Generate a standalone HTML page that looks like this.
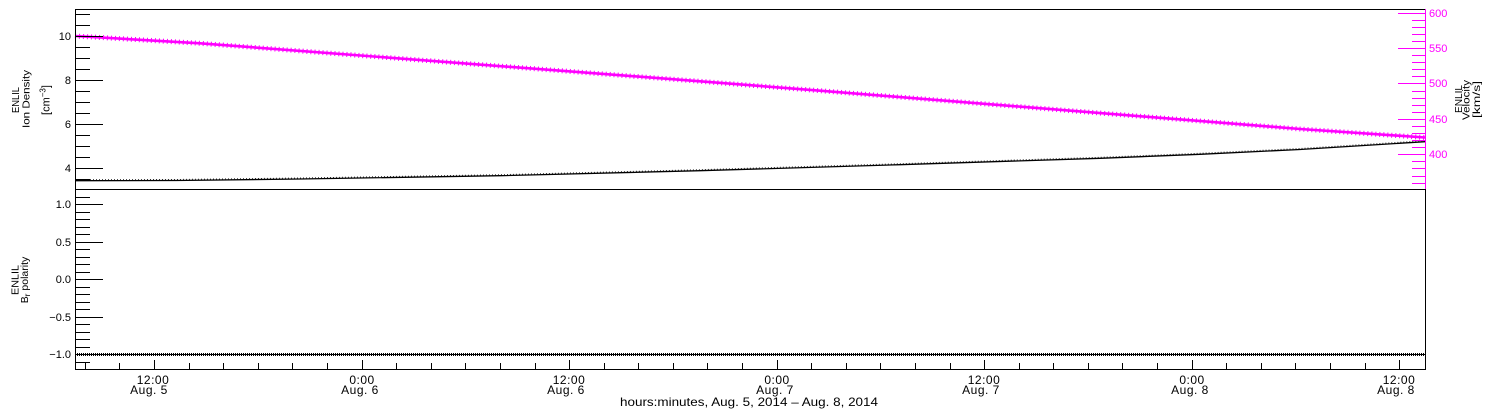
<!DOCTYPE html>
<html><head><meta charset="utf-8"><style>
html,body{margin:0;padding:0;background:#fff;}
svg{display:block;font-family:"Liberation Sans",sans-serif;}
</style></head><body>
<svg width="1500" height="410" viewBox="0 0 1500 410" xmlns="http://www.w3.org/2000/svg">
<rect width="1500" height="410" fill="#fff"/>

<!-- data: top panel -->
<g fill="none">
  <polyline points="75,36 200,43.3 700,81.3 820,90.7 1300,129 1425,137.5" stroke="#ff00ff" stroke-width="2.6"/>
  <polyline points="75,36 200,43.3 700,81.3 820,90.7 1300,129 1425,137.5" stroke="#ff00ff" stroke-width="5" stroke-dasharray="1 3"/>
  <polyline points="75,180.7 176,180.5 300,179 500,175.7 700,170.7 900,164.7 1100,158.3 1200,154.3 1300,149.5 1425,141.7" stroke="#000" stroke-width="1.3"/>
  <polyline points="75,179.7 176,179.5 300,178 500,174.7 700,169.7 900,163.7 1100,157.3 1200,153.3 1300,148.5 1425,140.7" stroke="#000" stroke-width="1" stroke-dasharray="1 2" opacity="0.8"/>
  <!-- bottom panel data -->
  <line x1="75" y1="354.5" x2="1425" y2="354.5" stroke="#000" stroke-width="1"/>
  <line x1="75" y1="354.5" x2="1425" y2="354.5" stroke="#000" stroke-width="3" stroke-dasharray="1 1"/>
</g>

<g shape-rendering="crispEdges" stroke-width="1" fill="none">
  <!-- frames -->
  <line x1="75" y1="9.5" x2="1426" y2="9.5" stroke="#000"/>
  <line x1="75.5" y1="9" x2="75.5" y2="370" stroke="#000"/>
  <line x1="75" y1="189.5" x2="1426" y2="189.5" stroke="#000"/>
  <line x1="75" y1="369.5" x2="1426" y2="369.5" stroke="#000"/>
  <line x1="1425.5" y1="189" x2="1425.5" y2="370" stroke="#000"/>
  <line x1="1425.5" y1="9" x2="1425.5" y2="189" stroke="#ff00ff"/>

  <!-- top-left ticks -->
  <path stroke="#000" d="
  M75,14.5h15 M75,25.5h15 M75,36.5h28 M75,47.5h15 M75,58.5h15 M75,69.5h15
  M75,80.5h28 M75,91.5h15 M75,102.5h15 M75,113.5h15 M75,124.5h28 M75,135.5h15
  M75,146.5h15 M75,157.5h15 M75,168.5h28 M75,179.5h15"/>

  <!-- bottom-left ticks -->
  <path stroke="#000" d="
  M75,197.5h15 M75,204.5h28 M75,212.5h15 M75,219.5h15 M75,227.5h15 M75,234.5h15
  M75,242.5h28 M75,249.5h15 M75,257.5h15 M75,264.5h15 M75,272.5h15 M75,279.5h28
  M75,287.5h15 M75,294.5h15 M75,302.5h15 M75,309.5h15 M75,317.5h28 M75,324.5h15
  M75,332.5h15 M75,339.5h15 M75,347.5h15 M75,354.5h28 M75,362.5h15"/>

  <!-- right magenta ticks -->
  <path stroke="#ff00ff" d="
  M1425,13.5h-27 M1425,20.5h-13 M1425,27.5h-13 M1425,34.5h-13 M1425,41.5h-13
  M1425,48.5h-27 M1425,55.5h-13 M1425,62.5h-13 M1425,69.5h-13 M1425,76.5h-13
  M1425,83.5h-27 M1425,91.5h-13 M1425,98.5h-13 M1425,105.5h-13 M1425,112.5h-13
  M1425,119.5h-27 M1425,126.5h-13 M1425,133.5h-13 M1425,140.5h-13 M1425,147.5h-13
  M1425,154.5h-27 M1425,161.5h-13 M1425,168.5h-13 M1425,176.5h-13 M1425,183.5h-13"/>

  <!-- x ticks -->
  <path stroke="#000" d="
  M85.5,369v-6 M119.5,369v-6 M154.5,369v-9 M189.5,369v-6 M223.5,369v-6 M258.5,369v-6 M292.5,369v-6 M327.5,369v-6
  M362.5,369v-9 M396.5,369v-6 M431.5,369v-6 M465.5,369v-6 M500.5,369v-6 M535.5,369v-6
  M569.5,369v-9 M604.5,369v-6 M638.5,369v-6 M673.5,369v-6 M707.5,369v-6 M742.5,369v-6
  M777.5,369v-9 M811.5,369v-6 M846.5,369v-6 M880.5,369v-6 M915.5,369v-6 M950.5,369v-6
  M984.5,369v-9 M1019.5,369v-6 M1053.5,369v-6 M1088.5,369v-6 M1122.5,369v-6 M1157.5,369v-6
  M1192.5,369v-9 M1226.5,369v-6 M1261.5,369v-6 M1295.5,369v-6 M1330.5,369v-6 M1365.5,369v-6
  M1399.5,369v-9"/>
</g>

<!-- left tick labels -->
<g font-size="11" fill="#000" text-anchor="end">
  <text x="71" y="40">10</text>
  <text x="71" y="84">8</text>
  <text x="71" y="128">6</text>
  <text x="71" y="172">4</text>
  <text x="71" y="208">1.0</text>
  <text x="71" y="246">0.5</text>
  <text x="71" y="283">0.0</text>
  <text x="71" y="321">−0.5</text>
  <text x="71" y="358">−1.0</text>
</g>

<!-- right tick labels -->
<g font-size="11" fill="#ff00ff">
  <text x="1429" y="17">600</text>
  <text x="1429" y="52">550</text>
  <text x="1429" y="87">500</text>
  <text x="1429" y="123">450</text>
  <text x="1429" y="158">400</text>
</g>

<!-- x labels -->
<g font-size="12" fill="#000" text-anchor="middle" letter-spacing="0.5">
  <text x="153" y="384">12:00</text><text x="149" y="394">Aug. 5</text>
  <text x="362" y="384">0:00</text><text x="360" y="394">Aug. 6</text>
  <text x="569" y="384">12:00</text><text x="566" y="394">Aug. 6</text>
  <text x="777" y="384">0:00</text><text x="775" y="394">Aug. 7</text>
  <text x="984" y="384">12:00</text><text x="981" y="394">Aug. 7</text>
  <text x="1192" y="384">0:00</text><text x="1190" y="394">Aug. 8</text>
  <text x="1399" y="384">12:00</text><text x="1396" y="394">Aug. 8</text>
</g>
<text x="620" y="406" font-size="12" textLength="258" lengthAdjust="spacingAndGlyphs" fill="#000">hours:minutes, Aug.  5, 2014 – Aug.  8, 2014</text>

<!-- axis titles -->
<g font-size="10" fill="#000" text-anchor="middle">
  <text transform="translate(19,100) rotate(-90)" textLength="26" lengthAdjust="spacingAndGlyphs">ENLIL</text>
  <text transform="translate(29.5,99) rotate(-90)" textLength="58" lengthAdjust="spacingAndGlyphs">Ion Density</text>
  <text transform="translate(49.5,100) rotate(-90)" font-size="11">[cm<tspan dy="-4" font-size="8">−3</tspan><tspan dy="4">]</tspan></text>

  <text transform="translate(18.3,280) rotate(-90)" textLength="30" lengthAdjust="spacingAndGlyphs">ENLIL</text>
  <text transform="translate(28,280) rotate(-90)" font-size="10.5">B<tspan dy="2" font-size="8">r</tspan><tspan dy="-2"> polarity</tspan></text>

  <text transform="translate(1462,99) rotate(-90)" textLength="28" lengthAdjust="spacingAndGlyphs">ENLIL</text>
  <text transform="translate(1469.5,100) rotate(-90)" textLength="40" lengthAdjust="spacingAndGlyphs">Velocity</text>
  <text transform="translate(1480,99.5) rotate(-90)" textLength="37" lengthAdjust="spacingAndGlyphs">[km/s]</text>
</g>
</svg>
</body></html>
